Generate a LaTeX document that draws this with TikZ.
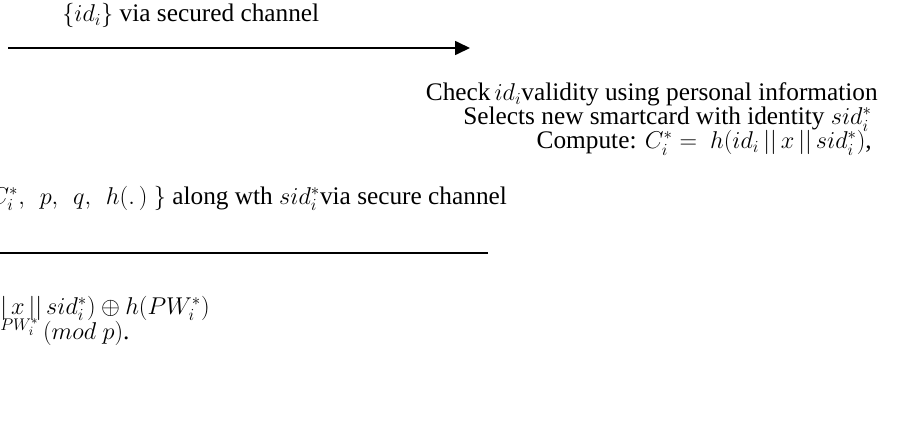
\documentclass[tikz,border=0pt]{standalone}
\usepackage{amsmath,amssymb}
\usepackage{fontspec}
\setmainfont{Liberation Serif}
\usepackage{tikz}
\usetikzlibrary{positioning,calc,arrows.meta}

\tikzset{
    msg/.style={line width=1.2pt, -{Triangle[length=0.375cm,width=0.35cm]}},
    txt/.style={inner sep=0pt, font=\fontsize{18}{20}\selectfont}
}

\begin{document}
\begin{tikzpicture}
    \useasboundingbox (0,0) rectangle (22.7,10.9);
    \clip (0,0) rectangle (22.7,10.9);

    % Registration request
    \coordinate (ureq) at (0.2,9.7);
    \coordinate (sreq) at (11.75,9.7);
    \draw[msg] (ureq) -- (sreq);
    \node[txt, anchor=base west] (lblreq) at (1.55,10.36) {$\{id_i\}$ via secured channel};

    % Server side
    \node[txt, anchor=base east] (chk) at (21.95,8.38) {Check$\,id_i$validity using personal information};
    \node[txt, anchor=base east] (sel) at (21.8,7.78) {Selects new smartcard with identity $sid_i^*$};
    \node[txt, anchor=base east] (cmp) at (21.8,7.18) {Compute: $C_i^* =\ h(id_i\,||\,x\,||\,sid_i^*)$,};

    % Smartcard reply
    \node[txt, anchor=base east] (lblrep) at (12.68,5.80) {$C_i^*,\;\, p,\;\, q,\;\, h(.\,)\ \}$ along wth $sid_i^*$via secure channel};
    \coordinate (srep) at (12.2,4.575);
    \coordinate (urep) at (-0.6,4.575);
    \draw[msg] (srep) -- (urep);

    % User side
    \node[txt, anchor=base west] (upd) at (0,3.05) {$|\,x\,||\,sid_i^*) \oplus h(PW_i^*)$};
    \node[txt, anchor=base west] (pwd) at (0,2.42) {${}^{PW_i^*}\,(mod\ p)$.};
\end{tikzpicture}
\end{document}
